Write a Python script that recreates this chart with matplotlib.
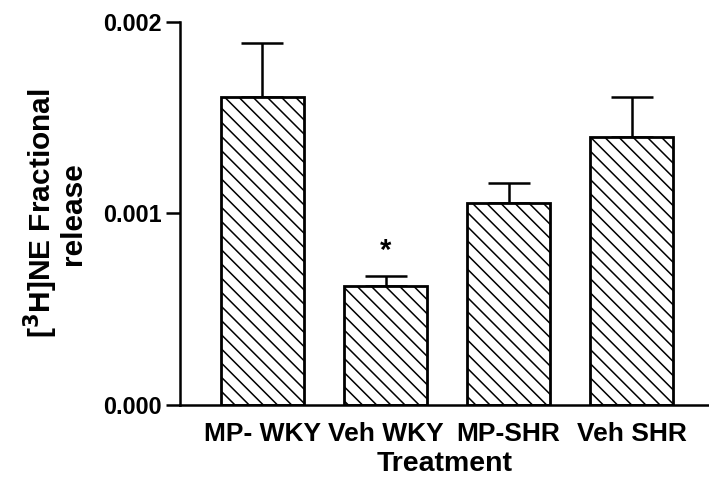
import numpy as np
import matplotlib.pyplot as plt

plt.rcParams['font.family'] = ['Liberation Sans', 'DejaVu Sans']
plt.rcParams['font.weight'] = 'bold'

# data
groups = ['MP- WKY', 'Veh WKY', 'MP-SHR', 'Veh SHR']
release = [0.00161, 0.00062, 0.001055, 0.0014]
sem = [0.00028, 0.000053, 0.000104, 0.00021]
signif = ['', '*', '', '']

# lower dpi so the hatch lines come out a bit denser; k keeps sizes in px
DPI = 85
k = 100 / DPI
plt.rcParams['hatch.linewidth'] = 1.1 * k

fig = plt.figure(figsize=(709 / DPI, 484 / DPI), dpi=DPI)
ax = fig.add_axes([0.254, 0.163, 0.746, 0.792])

x = np.arange(len(groups))
ax.bar(x, release, width=0.675, color='white', edgecolor='black',
       linewidth=2 * k, hatch='\\\\', zorder=2)
ax.errorbar(x, release, yerr=[np.zeros(len(sem)), sem], fmt='none',
            ecolor='black', elinewidth=1.8 * k, capsize=15 * k,
            capthick=1.8 * k, zorder=1)
for xi, v, s, mark in zip(x, release, sem, signif):
    if mark:
        ax.text(xi, v + s + 0.00006, mark, ha='center', va='bottom',
                fontsize=21 * k, fontweight='bold')

ax.set_xlim(-0.67, 3.63)
ax.set_ylim(0, 0.002)
ax.set_yticks([0.000, 0.001, 0.002])
ax.set_yticklabels(['0.000', '0.001', '0.002'])
ax.set_xticks(x)
ax.set_xticklabels(groups)
ax.tick_params(axis='x', length=0, labelsize=19 * k, pad=12 * k)
ax.tick_params(axis='y', length=10 * k, width=1.8 * k, labelsize=16.8 * k,
               pad=3 * k)

for side in ['top', 'right']:
    ax.spines[side].set_visible(False)
ax.spines['left'].set_linewidth(1.8 * k)
ax.spines['bottom'].set_linewidth(1.8 * k)

ax.set_xlabel('Treatment', fontsize=20.5 * k, fontweight='bold', labelpad=4 * k)
ax.set_ylabel('[$^{\\mathbf{3}}$H]NE Fractional\nrelease', fontsize=21.5 * k,
              fontweight='bold', linespacing=0.95, labelpad=12 * k)

fig.savefig('out.png', dpi=DPI)
